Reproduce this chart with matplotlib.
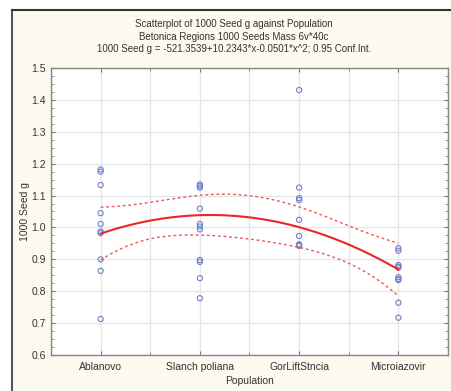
import numpy as np
import matplotlib
matplotlib.use("Agg")
import matplotlib.pyplot as plt
from matplotlib.patches import Rectangle
from matplotlib.lines import Line2D
from matplotlib.ticker import FixedLocator, MultipleLocator

categories = ["Ablanovo", "Slanch poliana", "GorLiftStncia", "Microiazovir"]
ablanovo = [1.182, 1.175, 1.133, 1.045, 1.011, 0.987, 0.982, 0.900, 0.864, 0.713]
slanch = [1.135, 1.130, 1.125, 1.059, 1.011, 1.003, 0.994, 0.898, 0.892, 0.841, 0.778]
gorlift = [1.431, 1.125, 1.092, 1.086, 1.024, 0.973, 0.947, 0.942, 0.945]
microiazovir = [0.935, 0.927, 0.882, 0.877, 0.874, 0.844, 0.838, 0.835, 0.764, 0.717]
groups = [ablanovo, slanch, gorlift, microiazovir]

title_lines = ["Scatterplot of 1000 Seed g against Population",
               "Betonica Regions 1000 Seeds Mass 6v*40c",
               "1000 Seed g = -521.3539+10.2343*x-0.0501*x^2; 0.95 Conf.Int."]

fam = ["Liberation Sans Narrow", "Liberation Sans", "DejaVu Sans"]
plt.rcParams['font.family'] = fam

bg = "#fdf9ee"
fig = plt.figure(figsize=(4.52, 3.91), dpi=100)
fig.patch.set_facecolor("white")
# beige panel with dark border at left/top
fig.patches.append(Rectangle((12/452, 0), 1, 1 - 10/391, transform=fig.transFigure,
                             facecolor=bg, edgecolor="none", zorder=-10))
fig.lines.append(Line2D([12.5/452, 12.5/452], [0, 1 - 10/391], transform=fig.transFigure,
                        color="#555555", lw=1.5, zorder=-9))
fig.lines.append(Line2D([12/452, 1], [1 - 9.5/391, 1 - 9.5/391], transform=fig.transFigure,
                        color="#333333", lw=1.5, zorder=-9))

ax = fig.add_axes([51/452, 36/391, 397/452, 287/391])
ax.set_zorder(1)
ax.set_facecolor("white")

xs = []
ys = []
for i, g in enumerate(groups):
    xs += [i + 1] * len(g)
    ys += g
xs = np.array(xs, float)
ys = np.array(ys, float)

ax.scatter(xs, ys, s=14, facecolors="none", edgecolors="#7080c8", linewidths=0.8, zorder=3)

# quadratic fit with 95% confidence band
X = np.column_stack([np.ones_like(xs), xs, xs**2])
beta, *_ = np.linalg.lstsq(X, ys, rcond=None)
res = ys - X @ beta
n, p = X.shape
s2 = res @ res / (n - p)
XtXi = np.linalg.inv(X.T @ X)
xg = np.linspace(1, 4, 200)
Xg = np.column_stack([np.ones_like(xg), xg, xg**2])
yg = Xg @ beta
se = np.sqrt(s2 * np.einsum('ij,jk,ik->i', Xg, XtXi, Xg))
tval = 2.03
ax.plot(xg, yg, color="#e8262b", lw=1.5, zorder=4)
ax.plot(xg, yg + tval * se, color="#ee5555", lw=1.0, ls=(0, (2, 2)), zorder=4)
ax.plot(xg, yg - tval * se, color="#ee5555", lw=1.0, ls=(0, (2, 2)), zorder=4)

ax.set_xlim(0.5, 4.5)
ax.set_ylim(0.6, 1.5)
ax.set_xticks([1, 2, 3, 4])
ax.set_xticklabels(categories)
ax.xaxis.set_minor_locator(FixedLocator(np.arange(0.5, 4.51, 0.5)))
ax.set_yticks(np.arange(0.6, 1.501, 0.1))
ax.set_yticklabels([f"{v:.1f}" for v in np.arange(0.6, 1.501, 0.1)])
ax.yaxis.set_minor_locator(MultipleLocator(0.025))
ax.grid(True, which="major", color="#e6e6e6", lw=1.0, zorder=0)
ax.grid(True, which="minor", axis="x", color="#e6e6e6", lw=1.0, zorder=0)
ax.set_axisbelow(True)
ax.tick_params(which="both", direction="in", top=True, right=True, colors="#777777",
               labelcolor="#333333", labelsize=7.5)
ax.tick_params(which="major", length=3)
ax.tick_params(which="minor", length=2)
ax.tick_params(axis="x", pad=5)
for sp in ax.spines.values():
    sp.set_color("#888888")
    sp.set_linewidth(1.0)

ax.set_xlabel("Population", fontsize=7.5, color="#333333", labelpad=3)
ax.set_ylabel("1000 Seed g", fontsize=7.5, color="#333333", labelpad=1)

for k, t in enumerate(title_lines):
    fig.text(234/452, 1 - (24 + 12.5 * k)/391, t, ha="center", va="center",
             fontsize=7, color="#333333")

fig.savefig("out.png", dpi=100, facecolor=fig.get_facecolor())
